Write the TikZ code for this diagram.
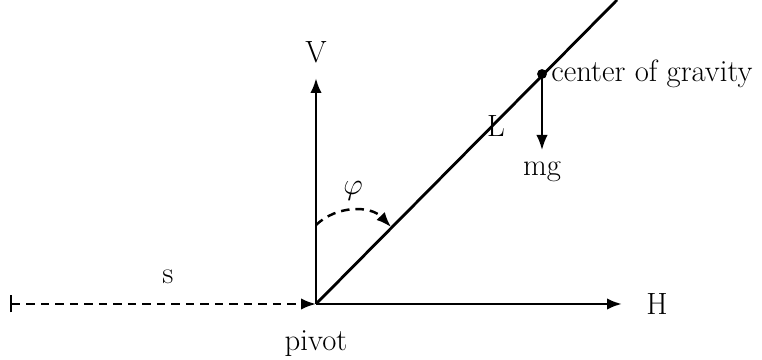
\documentclass[tikz,border=0pt]{standalone}
\usepackage{tikz}
\usetikzlibrary{positioning,arrows.meta}
\usepackage{amsmath,amssymb}
\definecolor{inkblack}{RGB}{0,0,0}
\tikzset{
  forcearrow/.style={draw=inkblack,line width=1.6pt,-{Latex[length=3mm,width=2.3mm]}},
  thinarrow/.style={draw=inkblack,line width=1.1pt,-{Latex[length=3mm,width=2.3mm]}},
  dashline/.style={draw=inkblack,line width=1.4pt,dash pattern=on 0.17cm off 0.12cm},
  lbl/.style={text=inkblack,font=\fontsize{17.5}{21}\selectfont,inner sep=2pt}
}

\begin{document}
\begin{tikzpicture}
        \useasboundingbox (-6.32,-1.12) rectangle (8.92,6.08);
        % points
        \coordinate (pivotpt) at (0,0);
        \coordinate (sstart) at (-6.12,0);
        \coordinate (hend) at (6.12,0);
        \coordinate (vend) at (0,4.52);
        \coordinate (rodtop) at (6.02,6.08);
        \coordinate (cog) at (4.52,4.6);
        \coordinate (mgend) at (4.52,3.08);
        \coordinate (phistart) at (0,1.58);
        \coordinate (phiend) at (1.5,1.54);
        % labels
        \node[lbl] (pivot) at (0,-0.8) {pivot};
        \node[lbl] (slbl) at (-2.96,0.54) {s};
        \node[lbl] (H) at (6.82,0) {H};
        \node[lbl] (V) at (0,5.04) {V};
        \node[lbl] (L) at (3.6,3.56) {L};
        \node[lbl] (mg) at (4.52,2.64) {mg};
        \node[lbl] (phi) at (0.74,2.26) {$\varphi$};
        \node[lbl,anchor=west,inner sep=0pt,xshift=0.18cm] (coglbl) at (cog) {center of gravity};
        % lines
        \draw[dashline,{Bar[width=3.4mm]}-{Latex[length=3mm,width=2.3mm]}]
          (sstart) -- (pivotpt);
        \draw[forcearrow] (pivotpt) -- (hend);
        \draw[forcearrow] (pivotpt) -- (vend);
        \draw[line width=1.6pt] (pivotpt) -- (rodtop);
        \draw[thinarrow] (cog) -- (mgend);
        \fill (cog) circle (2.8pt);
        \draw[dashline,-{Latex[length=3mm,width=2.3mm]}]
          (phistart) to[bend left=45] (phiend);
      \end{tikzpicture}
\end{document}
